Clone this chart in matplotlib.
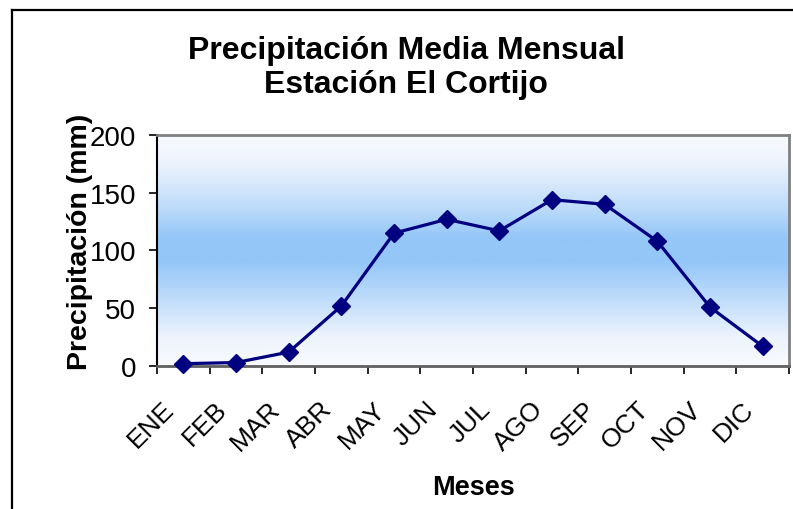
import numpy as np
import matplotlib
matplotlib.use("Agg")
import matplotlib.pyplot as plt
from matplotlib.colors import LinearSegmentedColormap
from matplotlib.lines import Line2D

plt.rcParams['font.family'] = ['Liberation Sans', 'DejaVu Sans']

meses = ["ENE", "FEB", "MAR", "ABR", "MAY", "JUN", "JUL", "AGO", "SEP", "OCT", "NOV", "DIC"]
precipitacion = [2, 3, 12, 52, 115, 127, 117, 144, 140, 108, 51, 17]
y_ticks = [0, 50, 100, 150, 200]

W, H = 793, 510
fig = plt.figure(figsize=(W / 100, H / 100), dpi=100)

# outer chart frame (left and top edges are within the canvas)
fig.add_artist(Line2D([12 / W, 12 / W], [0, 1 - 11 / H], color="black", lw=1.6,
                      transform=fig.transFigure))
fig.add_artist(Line2D([12 / W, 1], [1 - 11 / H, 1 - 11 / H], color="black", lw=1.6,
                      transform=fig.transFigure))

left, right, top, bottom = 157, 789, 136, 367
ax = fig.add_axes([left / W, 1 - bottom / H, (right - left) / W, (bottom - top) / H])

# vertical gradient background: pale at top and bottom, blue in the middle
cmap = LinearSegmentedColormap.from_list(
    "banda",
    [(0.0, "#f8fafe"), (0.12, "#eef4fd"), (0.32, "#bcdbfa"), (0.45, "#94c6f8"),
     (0.55, "#94c6f8"), (0.70, "#bcdbfa"), (0.88, "#eef4fd"), (1.0, "#f8fafe")])
grad = np.linspace(0, 1, 256).reshape(-1, 1)
ax.imshow(grad, cmap=cmap, aspect="auto", extent=[-0.5, 11.5, 0, 200],
          origin="upper", zorder=0)

x = np.arange(len(meses))
ax.plot(x, precipitacion, color="#000080", lw=2.3, marker="D", markersize=9,
        markerfacecolor="#000080", markeredgecolor="#000080", zorder=3, clip_on=False)

ax.set_xlim(-0.5, 11.5)
ax.set_ylim(0, 200)
ax.set_yticks(y_ticks)
ax.set_yticklabels([str(v) for v in y_ticks], fontsize=20)

# category boundaries carry the tick marks; month names sit just left of centre
ax.set_xticks(np.arange(-0.5, 12, 1))
ax.set_xticklabels([])
ax.set_xticks(x - 0.24, minor=True)
ax.set_xticklabels(meses, minor=True, rotation=45, ha="right", va="center",
                   rotation_mode="anchor", fontsize=19)
ax.tick_params(axis="x", which="minor", length=0, pad=28)
ax.tick_params(axis="x", which="major", length=6, width=1.2, color="black", direction="out")
ax.tick_params(axis="y", length=6, width=1.2, color="black", direction="out", pad=9)

for side in ("top", "right"):
    ax.spines[side].set_color("#808080")
    ax.spines[side].set_linewidth(2)
ax.spines["bottom"].set_color("#606060")
ax.spines["bottom"].set_linewidth(2)
ax.spines["left"].set_color("black")
ax.spines["left"].set_linewidth(1.5)

ax.set_ylabel("Precipitación (mm)", fontsize=20.5, fontweight="bold")
ax.yaxis.set_label_coords(-0.101, 0.54)
ax.set_xlabel("Meses", fontsize=19.5, fontweight="bold", labelpad=14)

fig.text(406 / W, 1 - 51 / H, "Precipitación Media Mensual", ha="center", va="center",
         fontsize=23, fontweight="bold")
fig.text(406 / W, 1 - 85 / H, "Estación El Cortijo", ha="center", va="center",
         fontsize=23, fontweight="bold")

fig.savefig("out.png", dpi=100)
